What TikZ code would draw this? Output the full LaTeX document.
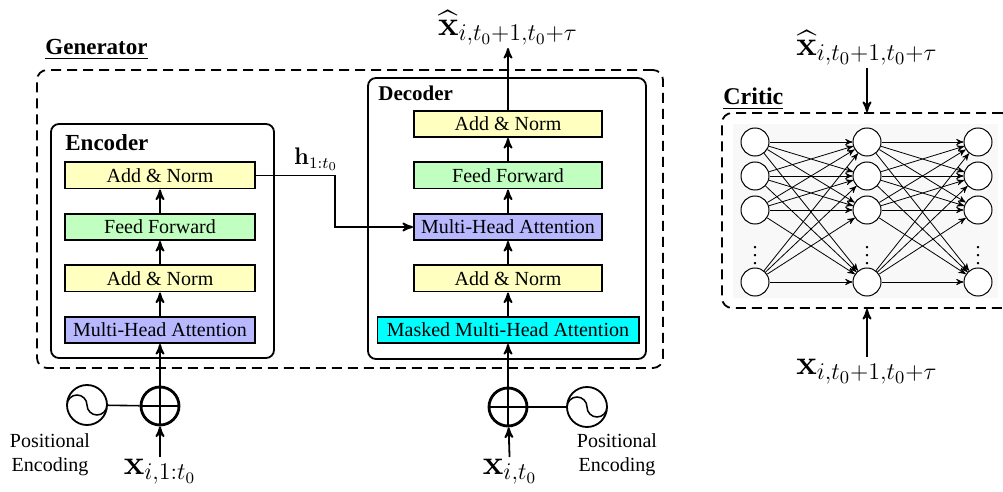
\documentclass[tikz,border=0pt]{standalone}
\usepackage[no-math]{fontspec}
\setmainfont{Liberation Serif}
\usepackage{amsmath}
\usetikzlibrary{arrows, positioning, fit, calc}
\definecolor{normyellow}{HTML}{FFFFC0}
\definecolor{ffgreen}{HTML}{C0FFC0}
\definecolor{attnblue}{HTML}{B8B8FF}
\definecolor{maskcyan}{HTML}{00FFFF}
\definecolor{criticgray}{HTML}{F8F8F8}

\begin{document}
\begin{tikzpicture}[
    x=0.5pt, y=-0.5pt,
    node distance=11.75pt,
    >=stealth',
    block/.style={rectangle, draw, line width=0.9pt, minimum height=13.1pt, inner sep=0pt},
    encblock/.style={block, minimum width=95.1pt},
    decblock/.style={block, minimum width=94.1pt},
    panel/.style={rectangle, draw, line width=0.9pt, rounded corners=4pt, inner sep=0pt},
    dashpanel/.style={rectangle, draw, line width=0.9pt, dash pattern=on 5pt off 3pt, rounded corners=5pt, inner sep=0pt},
    title/.style={font=\fontsize{11.5}{13}\selectfont\bfseries, inner sep=0pt, anchor=base west},
    signal/.style={font=\fontsize{17}{20}\selectfont, inner sep=1pt},
    addop/.style={circle, draw, line width=1.4pt, minimum size=19pt, inner sep=0pt,
        path picture={\draw[line width=1.4pt] (path picture bounding box.north) -- (path picture bounding box.south)
            (path picture bounding box.west) -- (path picture bounding box.east);}},
    posenc/.style={circle, draw, line width=0.9pt, minimum size=20pt, inner sep=0pt,
        path picture={\draw[line width=0.75pt] ([xshift=-10pt]path picture bounding box.center)
            arc[start angle=180, end angle=0, radius=5pt] arc[start angle=180, end angle=360, radius=5pt];}},
    flow/.style={->, line width=0.9pt},
    neuron/.style={circle, draw, line width=0.5pt, minimum size=14pt, inner sep=0pt, fill=white},
    link/.style={->, line width=0.4pt}
]
\useasboundingbox (0,0) rectangle (1003,492);

% generator
\node[dashpanel, fit={(37,70) (663,368)}] (generator) {};
\node[title] at (45,55) {\underline{Generator}};

% encoder
\node[panel, fit={(51,124) (274,358)}] (encoder) {};
\node[title] at (65,151) {Encoder};
\node[encblock, fill=attnblue] (encMHA) at (160,330) {Multi-Head Attention};
\node[encblock, fill=normyellow, above=of encMHA] (encAN1) {Add \& Norm};
\node[encblock, fill=ffgreen, above=of encAN1] (encFF) {Feed Forward};
\node[encblock, fill=normyellow, above=of encFF] (encAN2) {Add \& Norm};

% decoder
\node[panel, fit={(368,78) (646,359)}] (decoder) {};
\node[title, font=\fontsize{10.5}{12}\selectfont\bfseries] at (378,101) {Decoder};
\node[block, minimum width=130.6pt, fill=maskcyan] (decMMHA) at (508,330) {Masked Multi-Head Attention};
\node[decblock, fill=normyellow, above=of decMMHA] (decAN1) {Add \& Norm};
\node[decblock, fill=attnblue, above=of decAN1] (decMHA) {Multi-Head Attention};
\node[decblock, fill=ffgreen, above=of decMHA] (decFF) {Feed Forward};
\node[decblock, fill=normyellow, above=of decFF] (decAN2) {Add \& Norm};

% inputs
\node[addop] (encPlus) at (160,406) {};
\node[posenc] (encPE) at (87,405) {};
\node[align=center, inner sep=0pt] (encPEtext) at (50,455) {Positional\\Encoding};
\node[signal, anchor=north] (encIn) at (160,457) {$\mathbf{x}_{i,1:t_0}$};

\node[addop] (decPlus) at (508,407) {};
\node[posenc] (decPE) at (587,407) {};
\node[align=center, inner sep=0pt] (decPEtext) at (617,455) {Positional\\Encoding};
\node[signal, anchor=north] (decIn) at (510,457) {$\mathbf{x}_{i,t_0}$};
\node[signal, anchor=south, font=\fontsize{16.5}{20}\selectfont] (decOut) at (508,48) {$\widehat{\mathbf{x}}_{i,t_0+1,t_0+\tau}$};

\draw[flow] (encIn) -- (encPlus);
\draw[line width=0.8pt] (encPE) -- (encPlus);
\draw[flow] (encPlus) -- (encMHA);
\draw[flow] (encMHA) -- (encAN1);
\draw[flow] (encAN1) -- (encFF);
\draw[flow] (encFF) -- (encAN2);

\draw[flow] (decIn) -- (decPlus);
\draw[line width=0.8pt] (decPE) -- (decPlus);
\draw[flow] (decPlus) -- (decMMHA);
\draw[flow] (decMMHA) -- (decAN1);
\draw[flow] (decAN1) -- (decMHA);
\draw[flow] (decMHA) -- (decFF);
\draw[flow] (decFF) -- (decAN2);
\draw[flow] (decAN2) -- (decOut);

% hidden state
\draw[flow] (encAN2.east) -- ++(79,0) coordinate (hbend) |- (decMHA.west);
\node[font=\large] (hlabel) at (316,159) {$\mathbf{h}_{1:t_0}$};

% critic
\fill[criticgray] (733,124) rectangle (998,298);
\node[dashpanel, fit={(722,113) (1012,308)}] (critic) {};
\node[title, font=\large\bfseries] at (723,105) {\underline{Critic}};
\foreach \col/\x in {1/755, 2/867, 3/978} {
    \foreach \row/\y in {1/142, 2/176, 3/210, 4/282}
        \node[neuron] (n\col\row) at (\x,\y) {};
    \node[inner sep=0pt] (dots\col) at (\x,250) {$\vdots$};
}
\foreach \i in {1,...,4}
    \foreach \j in {1,...,4} {
        \draw[link] (n1\i) -- (n2\j);
        \draw[link] (n2\i) -- (n3\j);
    }
\node[signal, anchor=south, font=\fontsize{18}{21}\selectfont] (critFake) at (867,68) {$\widehat{\mathbf{x}}_{i,t_0+1,t_0+\tau}$};
\node[signal, anchor=north, font=\fontsize{18}{21}\selectfont] (critReal) at (867,357) {$\mathbf{x}_{i,t_0+1,t_0+\tau}$};
\draw[flow] (critFake) -- (critic.north);
\draw[flow] (critReal) -- (critic.south);

\end{tikzpicture}
\end{document}
